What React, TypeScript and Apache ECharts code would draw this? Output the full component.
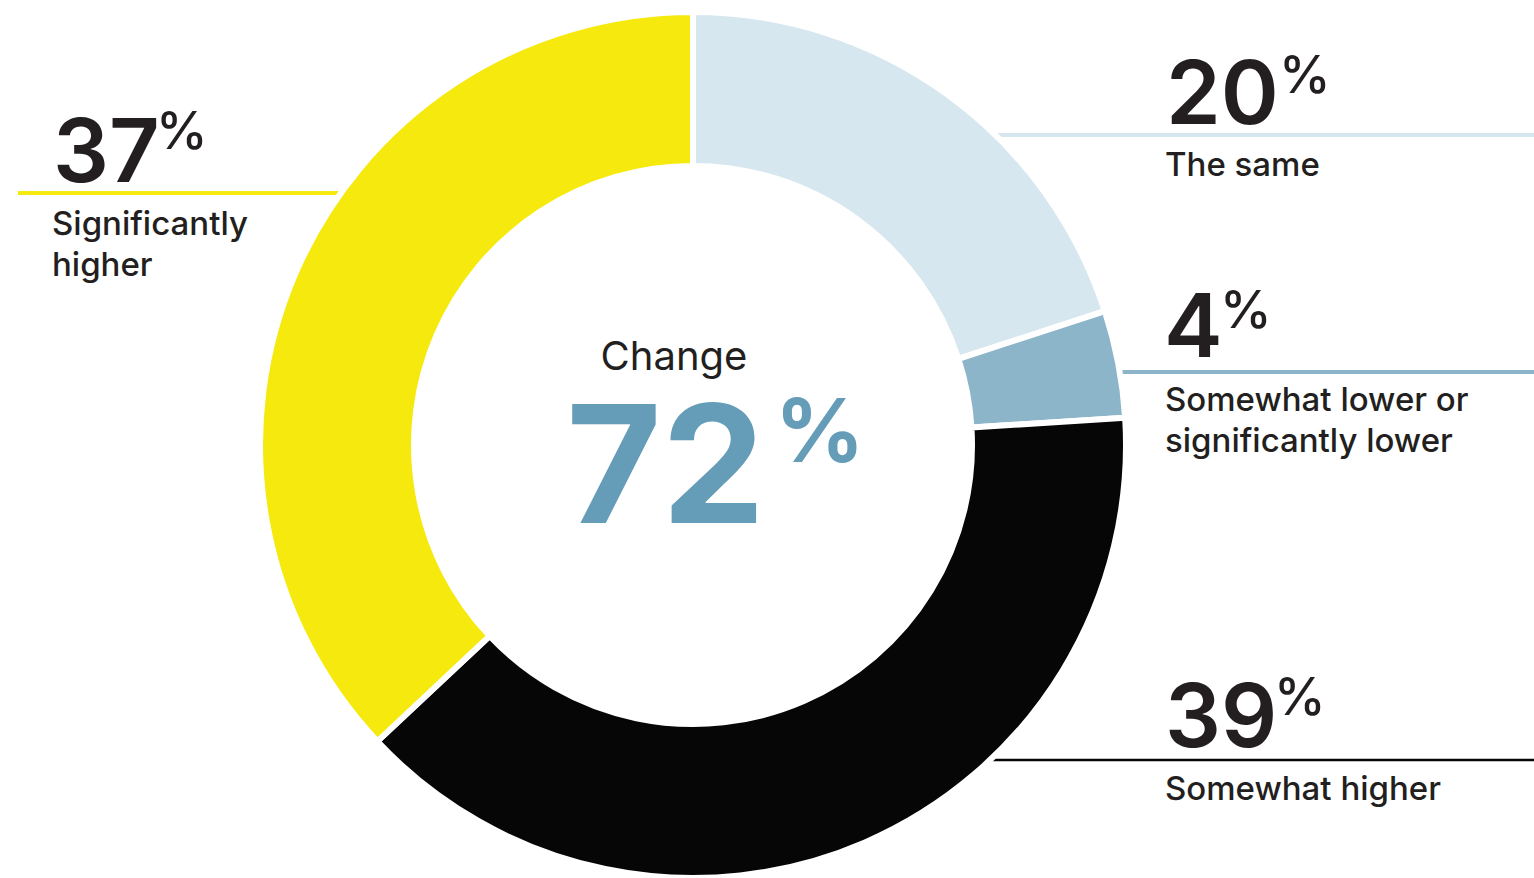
import React, { useEffect, useRef } from "react";
import * as echarts from "echarts";

const categories = ["The same", "Somewhat lower or\nsignificantly lower", "Somewhat higher", "Significantly\nhigher"];
const values = [20, 4, 39, 37];
const colors = ["#d6e7ef", "#8db5ca", "#060606", "#f6e90e"];
const centerTitle = "Change";
const centerValue = 72;

const FONT = "Inter, 'Noto Sans', sans-serif";
const TEXT = "#231f20";

export default function App() {
  const ref = useRef<HTMLDivElement>(null);
  useEffect(() => {
    const chart = echarts.init(ref.current!, null, { renderer: "svg" });
    const cx = 693, cy = 445, R = 433;
    const place = [
      { nx: 1166, ny: 92, px: 1279, py: 74, lx: 1165, ly: 166, lineY: 135, lw: 4, side: 1 },
      { nx: 1164, ny: 325, px: 1220, py: 309, lx: 1165, ly: 401, lineY: 372, lw: 4, side: 1 },
      { nx: 1165, ny: 715, px: 1274, py: 696, lx: 1165, ly: 790, lineY: 760, lw: 2.5, side: 1 },
      { nx: 53, ny: 150, px: 156, py: 130, lx: 52, ly: 225, lineY: 193, lw: 4, side: -1 },
    ];
    const graphics: any[] = [];
    values.forEach((v, i) => {
      const p = place[i];
      const dy = p.lineY - cy;
      const dx = Math.sqrt(R * R - dy * dy) - 6;
      const xIn = cx + p.side * dx;
      graphics.push({
        type: "line", z: -10,
        shape: p.side > 0 ? { x1: xIn, y1: p.lineY, x2: 1534, y2: p.lineY } : { x1: 18, y1: p.lineY, x2: xIn, y2: p.lineY },
        style: { stroke: colors[i], lineWidth: p.lw },
      });
      graphics.push({
        type: "text", z: 100, x: p.nx, y: p.ny,
        style: { text: String(v), fill: TEXT, font: `600 88px ${FONT}`, textAlign: "left", verticalAlign: "middle" },
      });
      graphics.push({
        type: "text", z: 100, x: p.px, y: p.py,
        style: { text: "%", fill: TEXT, font: `500 52px ${FONT}`, textAlign: "left", verticalAlign: "middle" },
      });
      graphics.push({
        type: "text", z: 100, x: p.lx, y: p.ly - 23,
        style: { text: categories[i], fill: TEXT, font: `500 33px ${FONT}`, lineHeight: 41, textAlign: "left", verticalAlign: "top" },
      });
    });
    graphics.push({
      type: "text", z: 100, x: 674, y: 355,
      style: { text: centerTitle, fill: TEXT, font: `400 40px ${FONT}`, lineHeight: 40, textAlign: "center", verticalAlign: "middle" },
    });
    graphics.push({
      type: "text", z: 100, x: 765, y: 463,
      style: { text: String(centerValue), fill: "#659cb8", font: `700 164px ${FONT}`, lineHeight: 120, textAlign: "right", verticalAlign: "middle" },
    });
    graphics.push({
      type: "text", z: 100, x: 775, y: 430,
      style: { text: "%", fill: "#659cb8", font: `700 88px ${FONT}`, lineHeight: 70, textAlign: "left", verticalAlign: "middle" },
    });

    chart.setOption({
      animation: false,
      backgroundColor: "#ffffff",
      graphic: { elements: graphics },
      series: [
        {
          type: "pie",
          z: 2,
          center: [cx, cy],
          radius: [279, R],
          startAngle: 90,
          clockwise: true,
          label: { show: false },
          labelLine: { show: false },
          emphasis: { disabled: true },
          itemStyle: { borderColor: "#ffffff", borderWidth: 6 },
          data: values.map((v, i) => ({ name: categories[i], value: v, itemStyle: { color: colors[i] } })),
        },
      ],
    });
    return () => chart.dispose();
  }, []);
  return <div ref={ref} style={{ position: "fixed", left: 0, top: 0, width: 1534, height: 878 }} />;
}
